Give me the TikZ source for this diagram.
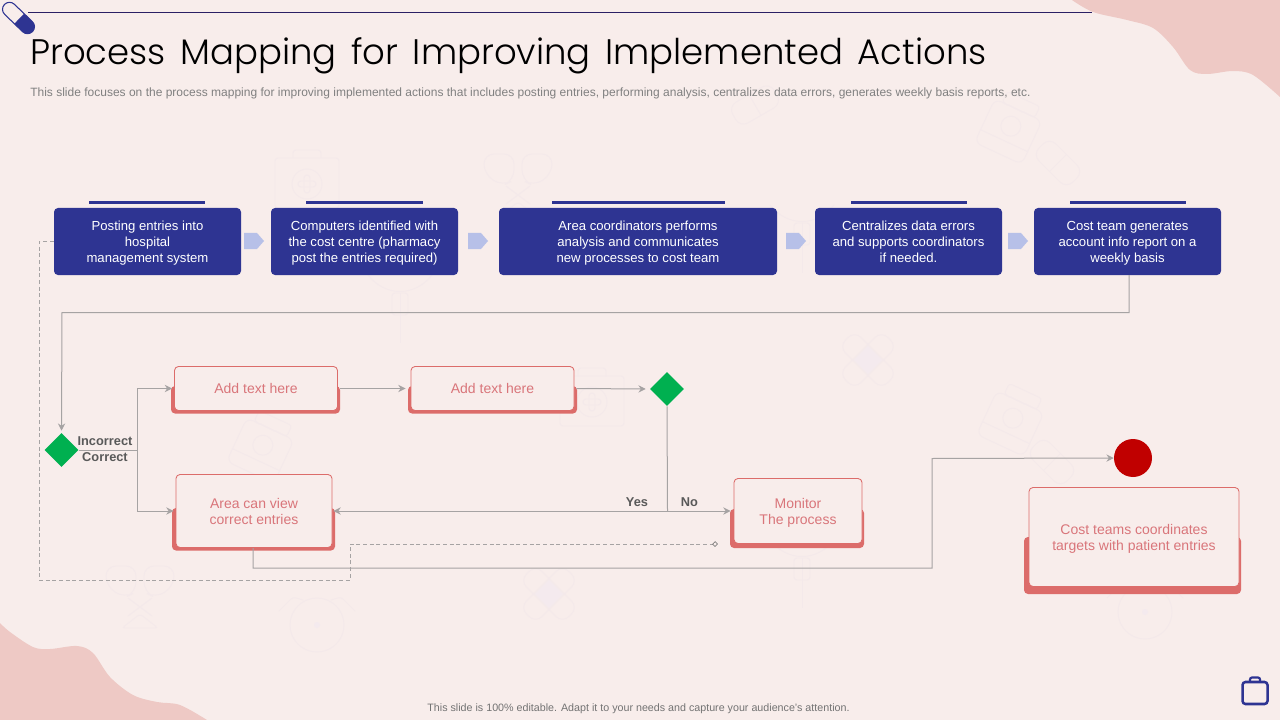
\documentclass[tikz,border=0pt]{standalone}
\usepackage{fontspec}
\setmainfont{Liberation Sans}
\newfontfamily\titlefont[UprightFont=* Light,WordSpace=1.5]{Poppins}
\usetikzlibrary{arrows.meta,shapes.geometric,calc}
\newlength\pxu \setlength\pxu{0.75pt}
\newcommand\ls{\rule[-2.1pt]{0pt}{12pt}}
\definecolor{bgc}{HTML}{F8EDEB}
\definecolor{blobc}{HTML}{EEC9C5}
\definecolor{navy}{HTML}{2E3492}
\definecolor{coral}{HTML}{DC6C6A}
\definecolor{coraltxt}{HTML}{D9757A}
\definecolor{conn}{HTML}{A6A3A3}
\definecolor{chev}{HTML}{B7C0E8}
\definecolor{wm}{HTML}{F4E9EA}
\definecolor{wmfill}{HTML}{F4EAEE}
\tikzset{
  x=0.75pt,y=-0.75pt,
  bluebox/.style={rectangle,rounded corners=4\pxu,fill=navy,text=white,align=center,minimum height=67\pxu,inner sep=0pt,font=\fontsize{9.85pt}{12pt}\selectfont},
  topbar/.style={fill=navy},
  chevron/.style={fill=chev},
  coralbox/.style={rectangle,rounded corners=4\pxu,draw=coral,line width=0.65pt,fill=bgc,text=coraltxt,align=center,inner sep=0pt,font=\fontsize{10.5pt}{12pt}\selectfont},
  backing/.style={fill=coral,rounded corners=4\pxu},
  decision/.style={diamond,aspect=1,inner sep=0pt,minimum width=34\pxu,minimum height=34\pxu,fill={rgb,255:red,0;green,176;blue,80}},
  cond/.style={font=\bfseries\fontsize{9.6pt}{12pt}\selectfont,text=black!65,inner sep=0pt},
  link/.style={draw=conn,line width=0.75pt},
  arr/.style={link,-{Stealth[length=5.5pt,width=5.5pt,inset=1.8pt]}},
  wmark/.style={draw=wm,line width=0.7pt,rounded corners=3\pxu},
  pillmark/.pic={\draw[wmark,rounded corners=9\pxu] (-24,-12) rectangle (24,12); \draw[wmark] (0,-12)--(0,12);},
  kitmark/.pic={\draw[wmark] (-32,-22) rectangle (32,28); \draw[wmark] (-14,-22)--(-14,-30)--(14,-30)--(14,-22); \draw[wmark] (0,4) circle (15\pxu); \draw[wmark] (-3,-5) rectangle (3,13);\draw[wmark] (-9,1) rectangle (9,7);},
  bottlemark/.pic={\draw[wmark,rounded corners=7\pxu] (-26,-20) rectangle (26,28); \draw[wmark] (-18,-32) rectangle (18,-20); \draw[wmark] (-26,14)--(26,14); \draw[wmark] (0,-2) circle (10\pxu);},
  bandmark/.pic={\draw[wmark,rounded corners=9\pxu] (-30,-11) rectangle (30,11); \draw[wmark,rounded corners=9\pxu] (-11,-30) rectangle (11,30);\fill[wmfill] (-10,-10) rectangle (10,10);},
  bellmark/.pic={\draw[wmark] (0,0) circle (27\pxu); \fill[wmfill] (0,0) circle (3\pxu); \draw[wmark] (-38,-14)--(-24,-28)--(-14,-25); \draw[wmark] (38,-14)--(24,-28)--(14,-25);},
  heartmark/.pic={\draw[wmark,rounded corners=10\pxu] (-34,-24) -- (-4,-24) -- (-4,2) -- (-16,8) -- (-34,-4) -- cycle; \draw[wmark,rounded corners=10\pxu] (34,-24) -- (4,-24) -- (4,2) -- (16,8) -- (34,-4) -- cycle; \draw[wmark] (-12,8)--(12,26) (12,8)--(-12,26); \draw[wmark] (-18,38)--(0,24)--(18,38)--cycle;},
  rodmark/.pic={\draw[wmark] (0,-12)--(0,38); \draw[wmark] (-32,-30) .. controls (-15,-8) and (15,-8) .. (32,-30); \draw[wmark] (-8,-12) rectangle (8,10);},
}
\begin{document}
\begin{tikzpicture}
\useasboundingbox (0,0) rectangle (1280,720);
\fill[bgc] (0,0) rectangle (1280,720);
% blobs
\fill[blobc] plot[smooth,tension=0.55] coordinates {(1072,0)(1093,12)(1127,20)(1153,28)(1173,47)(1190,70)(1207,74)(1233,71)(1253,75)(1280,97)} -- (1280,0) -- cycle;
\fill[blobc] plot[smooth,tension=0.55] coordinates {(0,623)(10,632)(33,647)(50,649)(77,646)(93,653)(110,677)(133,695)(157,702)(180,705)(207,720)} -- (0,720) -- cycle;
% watermarks
\pic at (307,180) {kitmark};
\pic at (518,178) {heartmark};
\pic[rotate=-25] at (1010,128) {bottlemark};
\pic[rotate=-45] at (1058,163) {pillmark};
\pic[rotate=30] at (755,105) {pillmark};
\pic at (592,398) {kitmark};
\pic[rotate=45] at (868,360) {bandmark};
\pic[rotate=-25] at (1012,420) {bottlemark};
\pic[rotate=-45] at (1052,462) {pillmark};
\pic[rotate=-25] at (262,447) {bottlemark};
\pic[rotate=45] at (549,594) {bandmark};
\pic at (317,625) {bellmark};
\pic at (1145,612) {bellmark};
\pic at (140,590) {heartmark};
\pic at (400,305) {rodmark};
\pic at (802,570) {rodmark};
\pic at (802,235) {rodmark};
% header
\draw[line width=0.9pt,draw={rgb,255:red,43;green,32;blue,100}] (28,12.5) -- (1092,12.5);
\begin{scope}[shift={(18.5,18)},rotate=-44]
\fill[bgc,rounded corners=7\pxu] (-19.5,-7) rectangle (19.5,7);
\begin{scope}
\clip[rounded corners=7\pxu] (-19.5,-7) rectangle (19.5,7);
\fill[navy] (1,-8) rectangle (21,8);
\end{scope}
\draw[navy,line width=0.8pt,rounded corners=7\pxu] (-19.5,-7) rectangle (19.5,7);
\end{scope}
\node[anchor=base west,inner sep=0pt,font=\titlefont\fontsize{26.6pt}{30pt}\selectfont,text=black] (title) at (30,65) {Process Mapping for Improving Implemented Actions};
\node[anchor=base west,inner sep=0pt,font=\fontsize{9.01pt}{11pt}\selectfont,text=black!50] (sub) at (30,97) {This slide focuses on the process mapping for improving implemented actions that includes posting entries, performing analysis, centralizes data errors, generates weekly basis reports, etc.};
% blue boxes
\node[bluebox,minimum width=187\pxu] (b1) at (147.5,241.5) {\ls Posting entries into\\\ls hospital\\\ls management system};
\node[bluebox,minimum width=187\pxu] (b2) at (364.5,241.5) {\ls Computers identified with\\\ls the cost centre (pharmacy\\\ls post the entries required)};
\node[bluebox,minimum width=278\pxu] (b3) at (638,241.5) {\ls Area coordinators performs\\\ls analysis and communicates\\\ls new processes to cost team};
\node[bluebox,minimum width=187\pxu] (b4) at (908.5,241.5) {\ls Centralizes data errors\\\ls and supports coordinators\\\ls if needed.};
\node[bluebox,minimum width=187\pxu] (b5) at (1127.5,241.5) {\ls Cost team generates\\\ls account info report on a\\\ls weekly basis};
\foreach \a/\c in {89/205,306/423,552/725,851/967,1070/1186} \fill[topbar] (\a,201) rectangle (\c,204);
\foreach \a in {244,468,786,1008} \fill[chevron] (\a,233) -- ++(13,0) -- ++(7,8) -- ++(-7,8) -- ++(-13,0) -- cycle;
% coral boxes
\fill[backing] (171,386) rectangle (340,413.5);
\fill[backing] (408,386) rectangle (577,413.5);
\fill[backing] (172,508) rectangle (335,550.5);
\fill[backing] (730,509) rectangle (864,548);
\fill[backing] (1024,537) rectangle (1241,594);
\node[coralbox,minimum width=163\pxu,minimum height=44\pxu] (c1) at (256,388.5) {\ls Add text here};
\node[coralbox,minimum width=163\pxu,minimum height=44\pxu] (c2) at (492.5,388.5) {\ls Add text here};
\node[coralbox,minimum width=156\pxu,minimum height=73\pxu] (c3) at (254,511) {\ls Area can view\\\ls correct entries};
\node[coralbox,minimum width=128\pxu,minimum height=65\pxu] (c4) at (798,511) {\ls Monitor\\\ls The process};
\node[coralbox,minimum width=210\pxu,minimum height=99\pxu] (c5) at (1134,537) {\ls Cost teams coordinates\\\ls targets with patient entries};
% decisions
\node[decision] (d1) at (61.5,450) {};
\node[decision] (d2) at (667,389) {};
\node[circle,fill={rgb,255:red,192;green,0;blue,0},minimum size=38\pxu,inner sep=0pt] (end) at (1133,458) {};
% connectors
\coordinate (b5out) at (1129,275);
\draw[arr] (b5out) -- (1129,312.5) -- (62,312.5) -- ([yshift=2\pxu]d1.north);
\draw[link] (d1.east) -- (137,450);
\coordinate (fork) at (137,450);
\draw[arr] (fork) |- ([xshift=-2\pxu]c1.west);
\draw[arr] (fork) |- ([xshift=-2\pxu]c3.west);
\draw[arr] ([xshift=2\pxu]c1.east) -- ([xshift=-5\pxu]c2.west);
\draw[arr] ([xshift=2\pxu]c2.east) -- ([xshift=-4\pxu]d2.west);
\coordinate (tee) at (667.5,511);
\draw[link] (d2.south) -- (tee);
\draw[link,{Stealth[length=5.5pt,width=5.5pt,inset=1.8pt]}-{Stealth[length=5.5pt,width=5.5pt,inset=1.8pt]}] ([xshift=1\pxu]c3.east) -- ([xshift=-3\pxu]c4.west);
\coordinate (dashend) at (715,544);
\draw[link,densely dashed,line width=0.6pt] (b1.west) -- (39,241.5) -- (39,580) -- (350,580) -- (350,544) -- (dashend);
\node[diamond,aspect=1,draw=black!60,fill=bgc,line width=0.4pt,minimum size=5\pxu,inner sep=0pt] (dashdot) at (dashend) {};
\draw[arr] (253,548) -- (253,568) -- (932,568) -- (932,458.5) -- (end.west);
% labels
\node[cond] (inc) at (105,441.5) {Incorrect};
\node[cond] (cor) at (105,457.5) {Correct};
\node[cond] (yes) at (637,502.5) {Yes};
\node[cond] (no) at (689.5,502.5) {No};
% footer
\node[inner sep=0pt,font=\fontsize{8.03pt}{10pt}\selectfont,text=black!55] (foot) at (638.5,709) {This slide is 100\% editable. Adapt it to your needs and capture your audience's attention.};
% case
\draw[navy,line width=1.9pt,rounded corners=3\pxu] (1242.5,682) rectangle (1267.5,704);
\draw[navy,line width=1.6pt,rounded corners=2\pxu] (1250,682) -- (1250,677.5) -- (1260,677.5) -- (1260,682);
\end{tikzpicture}
\end{document}
